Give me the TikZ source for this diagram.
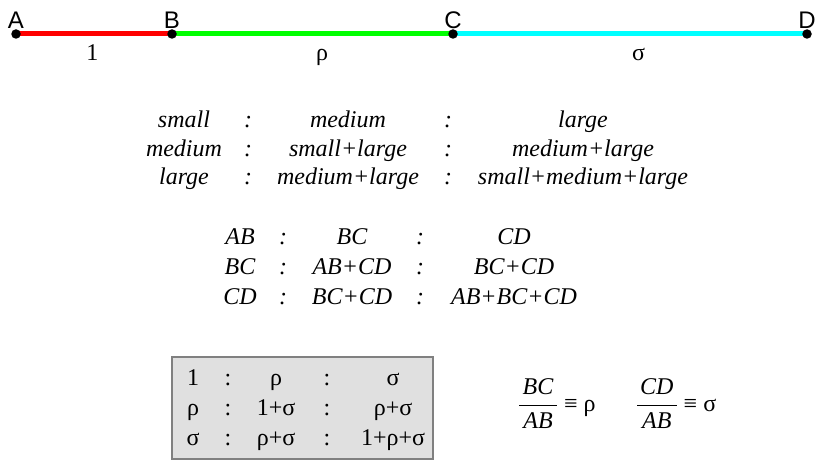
\documentclass[tikz,border=0pt]{standalone}
\usepackage{amsmath}
\usepackage{fontspec}
\setmainfont{Liberation Serif}
\newfontfamily\ptfont{Liberation Sans}
\usetikzlibrary{%
  positioning,% wg. " of "
  matrix%
}
\newcommand\bigsize{\fontsize{24}{29}\selectfont}
\definecolor{boxgray}{RGB}{224,224,224}
\definecolor{rimgray}{RGB}{128,128,128}
\definecolor{segred}{RGB}{255,0,0}
\definecolor{seggreen}{RGB}{0,255,0}
\definecolor{segcyan}{RGB}{0,255,255}

\begin{document}
\begin{tikzpicture}[x=1pt, y=-1pt,
  every node/.style = {inner sep=0pt, font=\bigsize},
  seg/.style = {line width=5pt},
  dot/.style = {circle, fill=black, minimum size=9.5pt, label distance=4.5pt},
  every label/.style = {font=\bigsize\ptfont, inner sep=0pt},
  seglabel/.style = {below=8pt, text=black, text height=16pt, text depth=5pt},
  ratiotab/.style = {matrix of nodes, row sep=#1, column sep=0pt,
    nodes={align=center, text height=18pt, text depth=6pt}},
  wordtab/.style = {ratiotab=#1, nodes={font=\bigsize\itshape}},
  frame/.style = {draw=rimgray, line width=2pt, fill=boxgray,
    minimum width=261pt, minimum height=102pt},
  ratio/.style = {anchor=base west}]
  \useasboundingbox (0,0) rectangle (824,470);

  % the segment A--B--C--D
  \coordinate (A) at (16,34);
  \coordinate (B) at (172,34);
  \coordinate (C) at (453,34);
  \coordinate (D) at (807,34);
  \draw[seg, segred] (A) -- node[seglabel, pos=.49] (one) {1} (B);
  \draw[seg, seggreen] (B) -- node[seglabel, pos=.534] (rhoseg) {ρ} (C);
  \draw[seg, segcyan] (C) -- node[seglabel, pos=.524] (sigseg) {σ} (D);
  \node[dot, label=above:A] (dotA) at (A) {};
  \node[dot, label=above:B] (dotB) at (B) {};
  \node[dot, label=above:C] (dotC) at (C) {};
  \node[dot, label=above:D] (dotD) at (D) {};

  % words
  \matrix (t1) [wordtab=4.5pt, matrix anchor=t1-1-1.base,
    column 1/.style={nodes={text width=108pt}},
    column 2/.style={nodes={text width=20pt}},
    column 3/.style={nodes={text width=180pt}},
    column 4/.style={nodes={text width=20pt}},
    column 5/.style={nodes={text width=250pt}}] at (184,128) {
    small & : & medium & : & large \\
    medium & : & small+large & : & medium+large \\
    large & : & medium+large & : & small+medium+large \\
  };

  % segments
  \matrix (t2) [wordtab=5.5pt, matrix anchor=t2-1-1.base,
    column 1/.style={nodes={text width=70pt}},
    column 2/.style={nodes={text width=16pt}},
    column 3/.style={nodes={text width=122pt}},
    column 4/.style={nodes={text width=14pt}},
    column 5/.style={nodes={text width=174pt}}] at (240,245) {
    AB & : & BC & : & CD \\
    BC & : & AB+CD & : & BC+CD \\
    CD & : & BC+CD & : & AB+BC+CD \\
  };

  % numbers, boxed
  \node[frame] (box) at (302.5,408) {};
  \matrix (t3) [ratiotab=6pt, matrix anchor=t3-1-1.base,
    column 1/.style={nodes={text width=50pt}},
    column 2/.style={nodes={text width=20pt}},
    column 3/.style={nodes={text width=76pt}},
    column 4/.style={nodes={text width=26pt}},
    column 5/.style={nodes={text width=106pt}}] at (193,385) {
    1 & : & ρ & : & σ \\
    ρ & : & 1+σ & : & ρ+σ \\
    σ & : & ρ+σ & : & 1+ρ+σ \\
  };

  \node[ratio] (rho) at (517.8,411.7)
    {$\genfrac{}{}{1.8pt}{0}{\hspace{3.5pt}\textit{BC}\hspace{3.5pt}}{\textit{AB}}$ ≡ ρ};
  \node[ratio] (sigma) at (635.8,411.7)
    {$\genfrac{}{}{1.8pt}{0}{\hspace{3pt}\textit{CD}\hspace{3pt}}{\textit{AB}}$ ≡ σ};
\end{tikzpicture}
\end{document}
